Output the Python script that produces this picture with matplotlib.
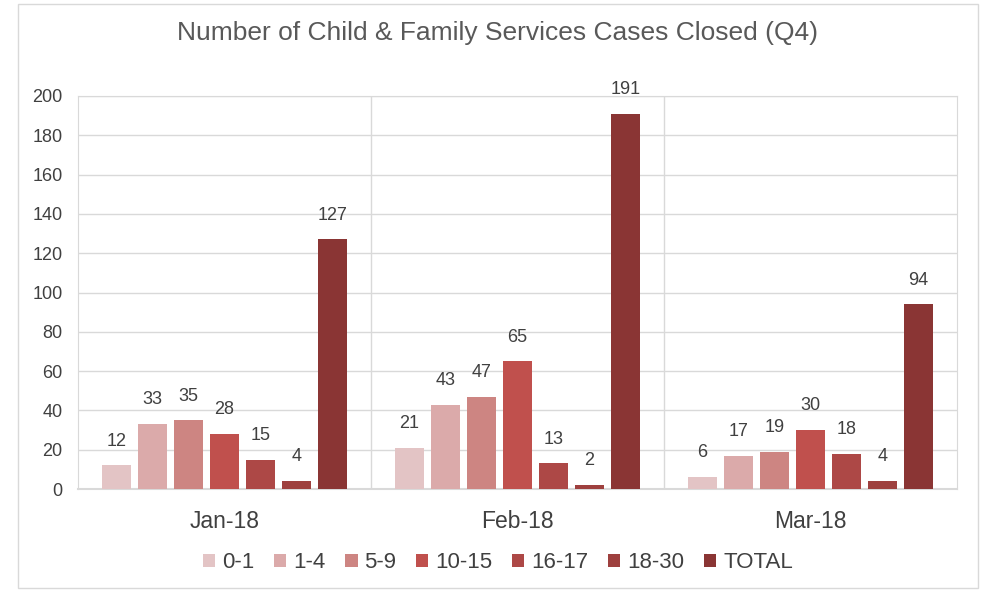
import matplotlib
matplotlib.use("Agg")
import matplotlib.pyplot as plt
import numpy as np
from matplotlib.patches import Rectangle

plt.rcParams['font.family'] = ['Liberation Sans', 'DejaVu Sans']

months = ["Jan-18", "Feb-18", "Mar-18"]
series = ["0-1", "1-4", "5-9", "10-15", "16-17", "18-30", "TOTAL"]
values = {
    "0-1": [12, 21, 6],
    "1-4": [33, 43, 17],
    "5-9": [35, 47, 19],
    "10-15": [28, 65, 30],
    "16-17": [15, 13, 18],
    "18-30": [4, 2, 4],
    "TOTAL": [127, 191, 94],
}
colors = ["#E3C4C5", "#DBAAAA", "#CD8582", "#C0504D", "#AD4846", "#9E403E", "#8A3534"]
yticks = [0, 20, 40, 60, 80, 100, 120, 140, 160, 180, 200]

fig = plt.figure(figsize=(9.84, 5.92), dpi=100)
fig.patches.append(Rectangle((18/984, 4/592), (978-18)/984, (588-4)/592,
                             transform=fig.transFigure, fill=False,
                             edgecolor="#D9D9D9", linewidth=1))
ax = fig.add_axes([78/984, 1-489/592, (957-78)/984, (489-96)/592])

x = np.arange(len(months))
step = 0.123
width = 0.099
n = len(series)
for i, s in enumerate(series):
    pos = x + (i - (n-1)/2) * step
    bars = ax.bar(pos, values[s], width=width, color=colors[i], label=s, zorder=3)
    for b, v in zip(bars, values[s]):
        ax.text(b.get_x() + b.get_width()/2, v + 8, str(v), ha="center", va="bottom",
                fontsize=13, color="#404040")

ax.set_xlim(-0.5, 2.5)
ax.set_ylim(0, 200)
ax.set_yticks(yticks)
ax.set_yticklabels([str(t) for t in yticks], fontsize=13, color="#404040")
ax.set_xticks(x)
ax.set_xticklabels(months, fontsize=16.5, color="#404040")
ax.tick_params(axis="both", length=0)
ax.tick_params(axis="x", pad=15)
ax.tick_params(axis="y", pad=11)
ax.grid(axis="y", color="#D9D9D9", linewidth=1, zorder=0)
for b in [0.5, 1.5]:
    ax.axvline(b, color="#D9D9D9", linewidth=1, zorder=0)
for sp in ["left", "right", "top"]:
    ax.spines[sp].set_color("#D9D9D9")
ax.spines["bottom"].set_color("#D9D9D9")
ax.spines["bottom"].set_linewidth(1.5)

fig.text(0.506, 1-33/592, "Number of Child & Family Services Cases Closed (Q4)",
         ha="center", va="center", fontsize=19, color="#595959")

leg = fig.legend(loc="center", bbox_to_anchor=(0.506, 1-563/592), ncol=7, frameon=False,
                 fontsize=16, handlelength=0.55, handleheight=0.55, handletextpad=0.3,
                 columnspacing=0.9, labelcolor="#404040")

fig.savefig("out.png", dpi=100, facecolor="white")
